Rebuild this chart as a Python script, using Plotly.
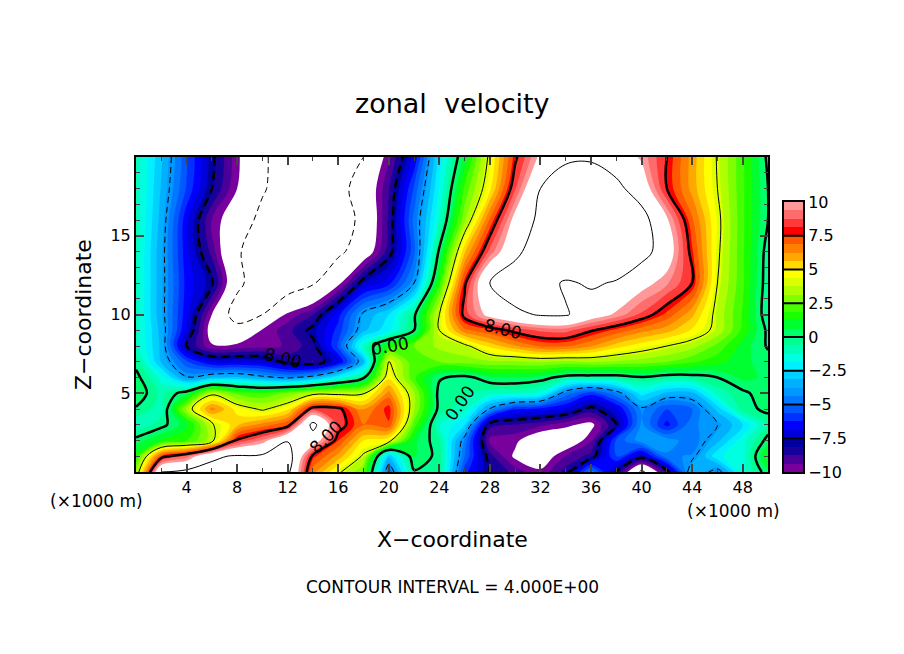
import plotly.graph_objects as go

# grid (x in 1000 m, z in 1000 m)
x_km = [0, 2, 4, 6, 8, 10, 12, 14, 16, 18, 20, 22, 24, 26, 28, 30, 32, 34, 36, 38, 40, 42, 44, 46, 48, 50]
z_km = [0, 1, 2, 3, 4, 5, 6, 7, 8, 9, 10, 12, 14, 16, 18, 20]

u_z00 = [3, 12, 12.5, 12.6, 12.5, 12.5, 12.5, 6.5, 4.2, 2.5, -5, -0.1, -0.1, -6, -8, -9, -9.8, -8.5, -4.5, -8, -12.5, -8.5, -3, -4.5, -1.5, 0.5]
u_z01 = [1.5, 7.5, 9, 11.7, 12.2, 12.3, 13, 7.7, 6, 3.8, -3, 0.7, -0.3, -5, -8.5, -10.2, -10.8, -9.3, -8.5, -5.5, -7.5, -4.5, -4.3, -2, -1.5, 1.5]
u_z02 = [0.3, 1.3, 1.8, 3.5, 8.2, 9.5, 11.9, 11, 7.5, 5, 4.5, 0.8, -0.5, -4.5, -9.6, -9.8, -11, -11, -9.5, -5.5, -4, -4, -4.8, -3.3, -1.5, 0.3]
u_z03 = [-1.2, -0.3, 1, 3.8, 5.5, 6.5, 7.5, 12.6, 8.5, 6.9, 7.4, 2.2, -1.2, -2.5, -8.5, -8.8, -9.2, -9.8, -10.3, -8, -4.2, -6.5, -4.5, -4, -2.5, -0.5]
u_z04 = [-0.1, -1, 3.3, 6.5, 4.7, 3.8, 4.8, 8.5, 8.3, 6.2, 7.8, 3.2, -0.3, -1, -4.1, -6.2, -6.5, -7, -8.3, -7, -4.2, -5.6, -5, -2.9, -0.3, 0.2]
u_z05 = [0.6, -0.8, 0.5, 3.7, 2.3, 2, 2.7, 3.6, 3.6, 3.9, 6.5, 3.2, -0.3, -0.5, -1, -1, -1.5, -4.6, -6, -4.5, -2.2, -3.3, -3.3, -1, -0.2, 0.5]
u_z06 = [0.3, -1.5, -3.9, -3.2, -3, -3.7, -4.2, -3.5, -1.8, -0.2, 4.8, 2, 0.1, -0.3, 0.5, 0.6, 0.4, -0.4, -0.5, -0.5, -0.1, -0.5, -0.4, 0, 0.8, 0.5]
u_z07 = [-0.3, -3.2, -5.5, -7, -7, -7.2, -8.3, -8.8, -7, -3.2, 4.2, 2, 2.5, 2.8, 3, 3, 3.2, 3, 3.2, 3, 2.8, 2.5, 2, 1.5, 0.8, 0.3]
u_z08 = [-1, -3.3, -8, -9.9, -9.8, -9.6, -9.3, -8.3, -5.5, -1, 1.5, 2.5, 3.3, 3.7, 5.2, 6.2, 7, 7, 6.3, 5.3, 4.6, 4, 3.4, 2.3, 1, -0.1]
u_z09 = [-1, -3.4, -7, -10.6, -11.2, -9.9, -9, -7.7, -6, -3.3, -2, 0, 4, 6.7, 7.4, 8.3, 8.9, 9, 8.1, 7.3, 6.5, 5.9, 4.9, 3.6, 1.7, -0.2]
u_z10 = [-1, -3.6, -6.7, -10, -13, -12, -9.8, -8.8, -6.5, -3.7, -2.5, -0.2, 4, 8.4, 10.5, 11.5, 12.2, 12.2, 10.8, 9.8, 8.6, 7.3, 5.8, 3.6, 1.8, -0.6]
u_z12 = [-1, -3.6, -6.5, -7.8, -11.5, -13.3, -13.3, -12.2, -10.3, -7.5, -6.5, -4, 1.7, 7.8, 12, 13.5, 13, 11.7, 12.3, 11.8, 10.5, 9.5, 8, 4, 2, -0.5]
u_z14 = [-1, -3.6, -6.7, -9, -11.8, -13, -13.8, -13.5, -12.4, -11, -8.4, -5.2, 0.2, 5.5, 9, 11.4, 13.5, 15, 15, 14, 12.8, 10.9, 7.6, 4.2, 2, -0.4]
u_z16 = [-0.9, -3.4, -6.7, -9.4, -11, -12.5, -13.5, -13.5, -12.8, -11.6, -8.6, -4.8, -1.2, 3, 7, 10.5, 12.5, 14, 14.5, 14, 12.8, 10.2, 7, 4.3, 2, 0]
u_z18 = [-0.9, -3.2, -5.7, -8, -10, -11.8, -13, -13.5, -12.6, -11.2, -8.8, -5.5, -1.8, 2, 4.8, 8.7, 12, 13, 13, 12.5, 11, 8, 6, 4, 2, 0]
u_z20 = [-0.9, -3, -5.5, -7.8, -9.8, -11.7, -13, -13.5, -13, -12, -9.5, -6.8, -2.2, 0.8, 4.3, 7.8, 10.3, 11.7, 11.8, 11, 9.8, 8, 6, 3.9, 2, -0.2]

u_grid = [u_z00, u_z01, u_z02, u_z03, u_z04, u_z05, u_z06, u_z07, u_z08, u_z09, u_z10, u_z12, u_z14, u_z16, u_z18, u_z20]

x_ticks = [4, 8, 12, 16, 20, 24, 28, 32, 36, 40, 44, 48]
z_ticks = [5, 10, 15]
bar_ticks = [-10, -7.5, -5, -2.5, 0, 2.5, 5, 7.5, 10]
bar_labels = ["\u221210", "\u22127.5", "\u22125", "\u22122.5", "0", "2.5", "5", "7.5", "10"]

# the 32 shades of the colour bar, bottom to top
bar_colors = [
    "#78009c", "#4a0098", "#18009a", "#0000a0",
    "#0000d8", "#0000ff", "#0030ff", "#0058ff",
    "#0078ff", "#0098ff", "#00b0ff", "#00d0ff",
    "#00f0ff", "#00ffe0", "#00ffb8", "#00ff90",
    "#00ff68", "#00ff30", "#18ff00", "#48ff00",
    "#80ff00", "#b0ff00", "#dcff00", "#ffff00",
    "#ffd800", "#ffa800", "#ff8000", "#ff5800",
    "#ff0000", "#ff3838", "#ff6c6c", "#ff9898",
]
fill_colors = ["#ffffff"] + bar_colors + ["#ffffff"]

fig = go.Figure()
fig.add_trace(go.Contour(
    x=x_km, y=z_km, z=u_grid, autocontour=False, showscale=False, hoverinfo="skip",
    contours=dict(start=-10, end=10, size=0.625, coloring="fill", showlines=False),
    colorscale=[[i / (len(fill_colors) - 1), c] for i, c in enumerate(fill_colors)],
    line=dict(smoothing=1, width=0),
))

# contour lines: negative dashed, 0 and +-8 heavy
for level, width, dash in [(-12, 1, "6px,4px"), (-8, 2.5, "9px,5px"), (-4, 1, "6px,4px"),
                           (0, 2.5, "solid"), (4, 1, "solid"), (8, 2.5, "solid"), (12, 1, "solid")]:
    fig.add_trace(go.Contour(
        x=x_km, y=z_km, z=u_grid, autocontour=False, showscale=False, hoverinfo="skip",
        contours=dict(start=level, end=level, size=1, coloring="none"),
        line=dict(color="black", width=width, dash=dash, smoothing=1),
    ))

# colour bar as its own little heatmap
band_edges = [-10 + 0.625 * i for i in range(33)]
fig.add_trace(go.Heatmap(
    x=[0, 1], y=band_edges, z=[[i] for i in range(32)], xaxis="x2", yaxis="y2",
    showscale=False, hoverinfo="skip", zmin=0, zmax=31,
    colorscale=[[i / 31, c] for i, c in enumerate(bar_colors)],
))

PLOT_W = 708
fnt = "DejaVu Sans"
# the page body adds 8px on the left and top
fig.update_layout(
    width=896, height=646, autosize=False,
    margin=dict(l=128, r=60, t=149, b=182),
    paper_bgcolor="white", plot_bgcolor="white", showlegend=False,
    font=dict(family=fnt, size=16, color="black"),
    xaxis=dict(domain=[0, 632 / PLOT_W], range=[0, 50], tickvals=x_ticks, ticks="inside", ticklen=8, tickwidth=1.5,
               minor=dict(dtick=2, ticks="inside", ticklen=4, tickwidth=1),
               showgrid=False, zeroline=False, showline=True, linewidth=2, linecolor="black", mirror="ticks",
               tickfont=dict(size=16)),
    yaxis=dict(domain=[0, 1], range=[0, 20], tickvals=z_ticks, ticks="inside", ticklen=8, tickwidth=1.5,
               minor=dict(dtick=1, ticks="inside", ticklen=4, tickwidth=1),
               showgrid=False, zeroline=False, showline=True, linewidth=2, linecolor="black", mirror="ticks",
               tickfont=dict(size=16)),
    xaxis2=dict(domain=[648 / PLOT_W, 667 / PLOT_W], range=[0, 1], anchor="y2", showticklabels=False, ticks="",
                showgrid=False, zeroline=False, showline=True, linewidth=2, linecolor="black", mirror=True),
    yaxis2=dict(domain=[0, 270 / 315], range=[-10, 10], anchor="x2", side="right",
                tickvals=bar_ticks, ticktext=bar_labels, ticks="", showgrid=False,
                zeroline=False, showline=True, linewidth=2, linecolor="black", mirror=True,
                tickfont=dict(size=16)),
)

# black separators of the colour bar
for v in bar_ticks[1:-1]:
    fig.add_shape(type="line", xref="x2", yref="y2", x0=0, x1=1, y0=v, y1=v, line=dict(color="black", width=2))


def label(txt, px, py, size=14, angle=0):
    fig.add_annotation(text=txt, xref="paper", yref="paper", xanchor="center", yanchor="middle",
                       x=(px - 136) / PLOT_W, y=(472 - py) / 315, showarrow=False,
                       font=dict(family=fnt, size=size, color="black"), textangle=angle)


label("zonal  velocity", 452, 104, size=27)
label("X\u2212coordinate", 452, 539, size=22)
label("Z\u2212coordinate", 83, 315, size=22, angle=-90)
label("(\u00d71000 m)", 96, 501, size=17)
label("(\u00d71000 m)", 733, 511, size=17)
label("CONTOUR INTERVAL = 4.000E+00", 452, 587, size=17)
label("8.00", 503, 329, size=17, angle=14)
label("8.00", 283, 358, size=17, angle=14)
label("8.00", 326, 437, size=17, angle=-45)
label("0.00", 390, 346, size=17, angle=-10)
label("0.00", 460, 403, size=17, angle=-55)

fig.write_html("out.html")
